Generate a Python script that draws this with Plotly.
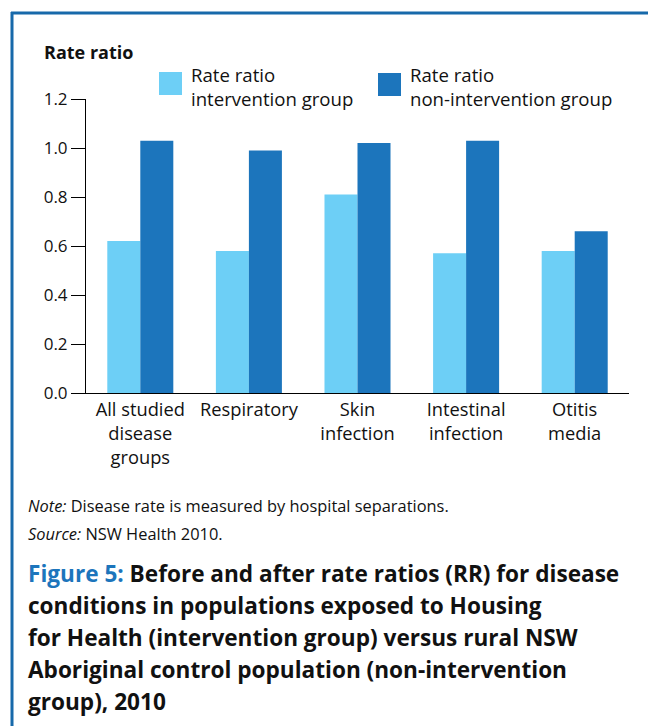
import plotly.graph_objects as go

categories = ["All studied<br>disease<br>groups", "Respiratory", "Skin<br>infection",
              "Intestinal<br>infection", "Otitis<br>media"]
intervention = [0.62, 0.58, 0.81, 0.57, 0.58]
non_intervention = [1.03, 0.99, 1.02, 1.03, 0.66]
series_names = ["Rate ratio<br>intervention group", "Rate ratio<br>non-intervention group"]
y_ticks = [0.0, 0.2, 0.4, 0.6, 0.8, 1.0, 1.2]

LIGHT = "#6DCFF6"
DARK = "#1C75BC"
BORDER = "#1769AA"
FONT = "Open Sans"

# page body has an 8px margin; work in reference pixel coordinates and shift
OFF = 8
W, H = 656 - OFF, 726 - OFF
L, R, T, B = 86 - OFF, 27, 99 - OFF, 333
PW, PH = W - L - R, H - T - B


def px(x):
    return (x - OFF - L) / PW


def py(y):
    return (H - B - (y - OFF)) / PH


fig = go.Figure()
fig.add_trace(go.Bar(x=categories, y=intervention, name=series_names[0],
                     marker=dict(color=LIGHT, line=dict(width=0))))
fig.add_trace(go.Bar(x=categories, y=non_intervention, name=series_names[1],
                     marker=dict(color=DARK, line=dict(width=0))))

shapes = [
    # frame
    dict(type="line", xref="paper", yref="paper", x0=px(11), x1=px(700), y0=py(13), y1=py(13),
         line=dict(color=BORDER, width=3)),
    dict(type="line", xref="paper", yref="paper", x0=px(12), x1=px(12), y0=py(12), y1=py(800),
         line=dict(color=BORDER, width=3)),
    # legend swatches
    dict(type="rect", xref="paper", yref="paper", x0=px(159), x1=px(182), y0=py(72), y1=py(95),
         fillcolor=LIGHT, line=dict(width=0)),
    dict(type="rect", xref="paper", yref="paper", x0=px(378), x1=px(401), y0=py(73), y1=py(96),
         fillcolor=DARK, line=dict(width=0)),
]

ann = []


def text(x, y, s, size, color="#111111", xanchor="left"):
    ann.append(dict(x=px(x), y=py(y), xref="paper", yref="paper", text=s, showarrow=False,
                    xanchor=xanchor, yanchor="middle", align="left",
                    font=dict(family=FONT, size=size, color=color)))


text(42, 52, "<b>Rate ratio</b>", 18)
# legend entries (two-line labels)
text(189, 86, series_names[0], 18.6)
text(408, 86, series_names[1], 18.6)

text(26, 505, "<i>Note:</i> Disease rate is measured by hospital separations.", 16.4)
text(26, 533, "<i>Source:</i> NSW Health 2010.", 16.4)

caption = [
    f'<span style="color:{DARK}">Figure 5:</span> Before and after rate ratios (RR) for disease',
    "conditions in populations exposed to Housing",
    "for Health (intervention group) versus rural NSW",
    "Aboriginal control population (non-intervention",
    "group), 2010",
]
for i, line in enumerate(caption):
    text(26, 573 + i * 32.2, f"<b>{line}</b>", 22.6)

fig.update_layout(
    width=W, height=H,
    margin=dict(l=L, r=R, t=T, b=B, autoexpand=False),
    paper_bgcolor="white", plot_bgcolor="white",
    barmode="group", bargap=0.392, bargroupgap=0,
    showlegend=False,
    font=dict(family=FONT, size=17, color="#111111"),
    shapes=shapes, annotations=ann,
    xaxis=dict(showline=True, linecolor="black", linewidth=1, ticks="", showgrid=False,
               tickfont=dict(size=18.3, color="#111111"), range=[-0.5, 4.5]),
    yaxis=dict(range=[0, 1.2], tickvals=y_ticks, tickformat=".1f", showline=True,
               linecolor="black", linewidth=1, ticks="outside", ticklen=14, tickcolor="black",
               tickwidth=1, showgrid=False, zeroline=False,
               tickfont=dict(size=17, color="#111111")),
)

fig.write_html("out.html")
